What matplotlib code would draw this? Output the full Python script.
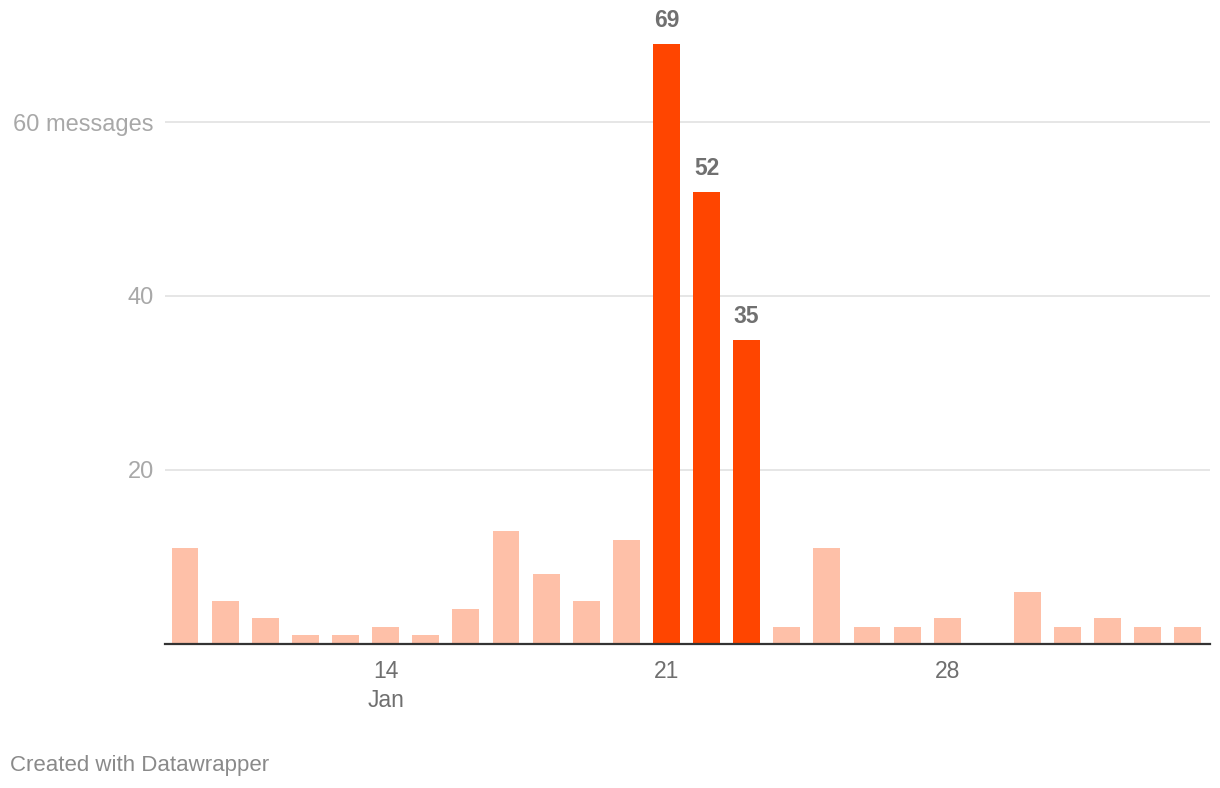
import matplotlib
matplotlib.use("Agg")
import matplotlib.pyplot as plt

# Daily message counts, Jan 9 - Feb 3
days = ["9", "10", "11", "12", "13", "14", "15", "16", "17", "18", "19", "20",
        "21", "22", "23", "24", "25", "26", "27", "28", "29", "30", "31",
        "1", "2", "3"]
messages = [11, 5, 3, 1, 1, 2, 1, 4, 13, 8, 5, 12,
            69, 52, 35, 2, 11, 2, 2, 3, 0, 6, 2, 3, 2, 2]
highlight = ["21", "22", "23"]

tick_days = ["14", "21", "28"]
tick_labels = ["14\nJan", "21", "28"]
y_ticks = [20, 40, 60]
y_tick_labels = ["20", "40", "60 messages"]

LIGHT = "#fec0a8"
DARK = "#ff4500"

plt.rcParams["font.family"] = ["Liberation Sans", "DejaVu Sans"]

fig = plt.figure(figsize=(12.2, 7.88), dpi=100)
ax = fig.add_axes([165 / 1220, 1 - 644 / 788, 1045 / 1220, 626.4 / 788])

x = list(range(len(days)))
colors = [DARK if d in highlight else LIGHT for d in days]
ax.bar(x, messages, width=0.67, color=colors, zorder=2)

# value labels on highlighted bars
for i, d in enumerate(days):
    if d in highlight:
        ax.annotate(str(messages[i]), (i, messages[i]), xytext=(0, 16.5),
                    textcoords="offset points", ha="center", va="center",
                    fontsize=16.5, fontweight="bold", color="#707070")

ax.set_xlim(-0.5, 25.55)
ax.set_ylim(0, 72)

ax.set_yticks(y_ticks)
ax.set_yticklabels(y_tick_labels)
ax.yaxis.grid(True, color="#e2e2e2", linewidth=1.2, zorder=0)
ax.tick_params(axis="y", length=0, pad=8, labelsize=17, labelcolor="#a8a8a8")

ax.set_xticks([days.index(d) for d in tick_days])
ax.set_xticklabels(tick_labels, linespacing=1.35)
ax.tick_params(axis="x", length=0, pad=11.5, labelsize=16.5, labelcolor="#6f6f6f")

for side in ["top", "right", "left"]:
    ax.spines[side].set_visible(False)
ax.spines["bottom"].set_color("#333333")
ax.spines["bottom"].set_linewidth(1.6)
ax.spines["bottom"].set_zorder(3)

fig.text(10 / 1220, 1 - 765 / 788, "Created with Datawrapper", fontsize=16,
         color="#8a8a8a", ha="left", va="center")

fig.savefig("out.png", dpi=100, facecolor="white")
